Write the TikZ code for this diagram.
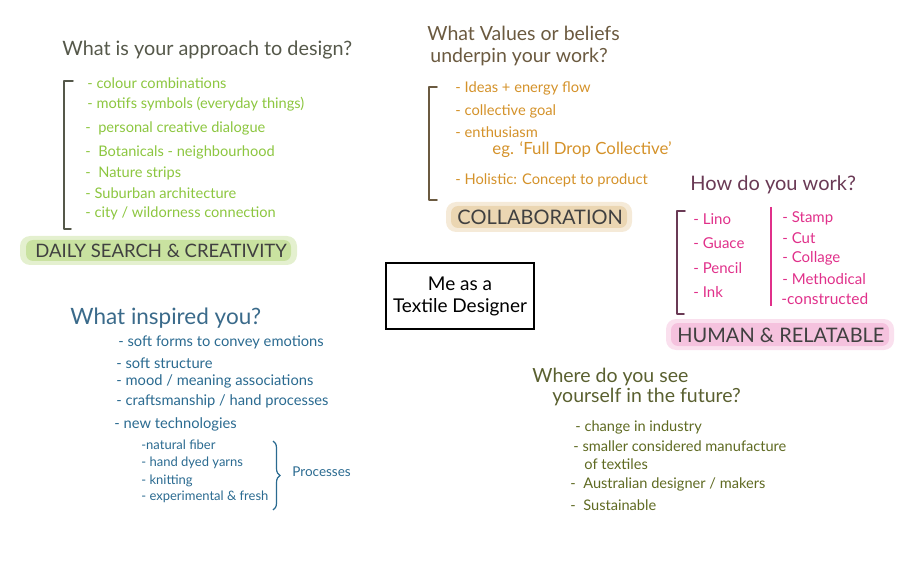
\documentclass[tikz,border=0pt]{standalone}
\usepackage{fontspec}
\setmainfont{Lato}
\usetikzlibrary{calc, positioning, decorations.pathreplacing}

\newcommand{\fs}[1]{\fontsize{#1}{#1}\selectfont}

\definecolor{inkGrey}{HTML}{55584A}
\definecolor{leafGreen}{HTML}{8CC63F}
\definecolor{hlGreen}{HTML}{C9E2A0}
\definecolor{inkBrown}{HTML}{6B5A40}
\definecolor{amber}{HTML}{D4922A}
\definecolor{hlTan}{HTML}{EBD6B2}
\definecolor{inkPlum}{HTML}{6A3A55}
\definecolor{rose}{HTML}{E0308A}
\definecolor{hlPink}{HTML}{F5C2DE}
\definecolor{inkBlue}{HTML}{3A6A8A}
\definecolor{petrol}{HTML}{2A6A90}
\definecolor{inkOlive}{HTML}{5A6030}
\definecolor{moss}{HTML}{5F6A22}

\begin{document}
\begin{tikzpicture}[x=1pt, y=-1pt, thick,
    txt/.style={anchor=west, inner sep=0pt},
    head/.style={txt, font=\fs{19.5}},
    tag/.style={txt, font=\fs{18.5}, text=black!75},
    bracket/.style={line width=1.5pt, line cap=round, line join=round}]

    % Canvas
    \useasboundingbox (0,0) rectangle (915,561);

    % ---------------- Approach to design
    \node[head, text=inkGrey, font=\fs{19.8}] (approach) at (62,50) {What is your approach to design?};
    \node[txt, text=leafGreen, font=\fs{14.6}] (a1) at (87,83)  {- colour combinations};
    \node[txt, text=leafGreen, font=\fs{14.6}] (a2) at (87,104) {- motifs symbols (everyday things)};
    \node[txt, text=leafGreen, font=\fs{14.6}] (a3) at (85,128) {-\ \ personal creative dialogue};
    \node[txt, text=leafGreen, font=\fs{14.6}] (a4) at (85,152) {-\ \ Botanicals - neighbourhood};
    \node[txt, text=leafGreen, font=\fs{14.6}] (a5) at (85,173) {-\ \ Nature strips};
    \node[txt, text=leafGreen, font=\fs{14.6}] (a6) at (85,193) {-\ Suburban architecture};
    \node[txt, text=leafGreen, font=\fs{14.6}] (a7) at (85,213) {-\ city / wildorness connection};
    \draw[bracket, inkGrey] (73,81) -- (64,81) -- (64,229) -- (71,229);

    % highlight + tag
    \fill[hlGreen, opacity=.5, rounded corners=10pt] (20,236) rectangle (297,265);
    \fill[hlGreen, rounded corners=7pt] (26,240) rectangle (291,261);
    \node[tag] (daily) at (35,251) {DAILY SEARCH \& CREATIVITY};

    % ---------------- Values / beliefs
    \node[head, text=inkBrown] (values) at (427,33) {What Values or beliefs};
    \node[head, text=inkBrown] (values2) at (430,57) {underpin your work?};
    \node[txt, text=amber, font=\fs{14.7}] (v1) at (455,88)  {- Ideas + energy flow};
    \node[txt, text=amber, font=\fs{14.7}] (v2) at (455,111) {- collective goal};
    \node[txt, text=amber, font=\fs{14.7}] (v3) at (455,132) {- enthusiasm};
    \node[txt, text=amber, font=\fs{16.8}] (v4) at (492,150) {eg. `Full Drop Collective'};
    \node[txt, text=amber, font=\fs{14.7}] (v5) at (455,180) {- Holistic: Concept to product};
    \draw[bracket, inkBrown] (437,87) -- (429,87) -- (429,200) -- (437,200);

    \fill[hlTan, opacity=.5, rounded corners=10pt] (446,202) rectangle (632,232);
    \fill[hlTan, rounded corners=7pt] (451,206) rectangle (627,228);
    \node[tag, font=\fs{20}] (collab) at (457,217) {COLLABORATION};

    % ---------------- How do you work
    \node[head, text=inkPlum, font=\fs{20}] (how) at (690,185) {How do you work?};
    \node[txt, text=rose, font=\fs{15}] (h1) at (693,219) {- Lino};
    \node[txt, text=rose, font=\fs{15}] (h2) at (693,243) {- Guace};
    \node[txt, text=rose, font=\fs{15}] (h3) at (693,268) {- Pencil};
    \node[txt, text=rose, font=\fs{15}] (h4) at (693,292) {- Ink};
    \node[txt, text=rose, font=\fs{15}] (h5) at (782,218) {- Stamp};
    \node[txt, text=rose, font=\fs{15}] (h6) at (782,238) {- Cut};
    \node[txt, text=rose, font=\fs{15}] (h7) at (782,258) {- Collage};
    \node[txt, text=rose, font=\fs{15}] (h8) at (782,279) {- Methodical};
    \node[txt, text=rose, font=\fs{15.5}] (h9) at (781,299) {-constructed};
    \draw[line width=1.2pt, rose] (771,207) -- (771,306);
    \draw[bracket, inkPlum] (685,211) -- (677,211) -- (677,314) -- (684,314);

    \fill[hlPink, opacity=.5, rounded corners=10pt] (666,319) rectangle (894,350);
    \fill[hlPink, rounded corners=7pt] (671,323) rectangle (889,346);
    \node[tag, font=\fs{20}] (human) at (677,335) {HUMAN \& RELATABLE};

    % ---------------- Centre box
    \node[draw, line width=1.2pt, minimum width=148pt, minimum height=66pt,
          align=center, font=\fs{19}, inner sep=2pt] (me) at (460,296)
          {Me as a\\[3pt]Textile Designer};

    % ---------------- What inspired you
    \node[head, text=inkBlue, font=\fs{22.5}] (inspired) at (70,318) {What inspired you?};
    \node[txt, text=petrol, font=\fs{14.7}] (i1) at (118,342) {- soft forms to convey emotions};
    \node[txt, text=petrol, font=\fs{14.7}] (i2) at (116,363) {-\ soft structure};
    \node[txt, text=petrol, font=\fs{14.7}] (i3) at (116,381) {-\ mood / meaning associations};
    \node[txt, text=petrol, font=\fs{14.7}] (i4) at (116,401) {-\ craftsmanship / hand processes};
    \node[txt, text=petrol, font=\fs{14.7}] (i5) at (114,424) {-\ new technologies};
    \node[txt, text=petrol, font=\fs{13}] (p1) at (141,445) {-natural fiber};
    \node[txt, text=petrol, font=\fs{13}] (p2) at (141,463) {- hand dyed yarns};
    \node[txt, text=petrol, font=\fs{13}] (p3) at (141,481) {- knitting};
    \node[txt, text=petrol, font=\fs{13}] (p4) at (141,497) {- experimental \& fresh};
    \draw[petrol, line width=1.2pt, decorate,
          decoration={brace, amplitude=7pt}] (273,441) -- (273,510);
    \node[txt, text=petrol, font=\fs{13.5}] (processes) at (292,472) {Processes};

    % ---------------- Future
    \node[head, text=inkOlive] (future) at (532,377) {Where do you see};
    \node[head, text=inkOlive] (future2) at (552,397) {yourself in the future?};
    \node[txt, text=moss, font=\fs{14.6}] (f1) at (575,427) {- change in industry};
    \node[txt, text=moss, font=\fs{14.6}] (f2) at (573,446) {- smaller considered manufacture};
    \node[txt, text=moss, font=\fs{14.6}] (f3) at (584,464) {of textiles};
    \node[txt, text=moss, font=\fs{14.6}] (f4) at (570,484) {-\ \ Australian designer / makers};
    \node[txt, text=moss, font=\fs{14.6}] (f5) at (570,505) {-\ \ Sustainable};

\end{tikzpicture}
\end{document}
